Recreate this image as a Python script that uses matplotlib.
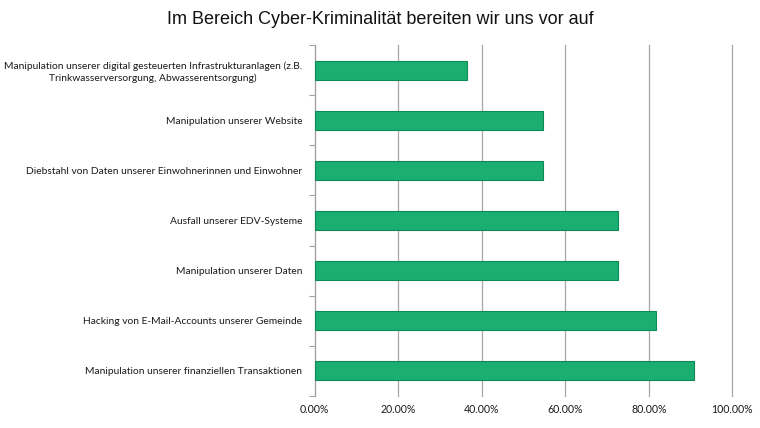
import matplotlib
matplotlib.use("Agg")
import matplotlib.pyplot as plt
from matplotlib.ticker import FixedLocator, FuncFormatter

title = "Im Bereich Cyber-Kriminalität bereiten wir uns vor auf"
categories = [
    "Manipulation unserer digital gesteuerten Infrastrukturanlagen (z.B.\nTrinkwasserversorgung, Abwasserentsorgung)",
    "Manipulation unserer Website",
    "Diebstahl von Daten unserer Einwohnerinnen und Einwohner",
    "Ausfall unserer EDV-Systeme",
    "Manipulation unserer Daten",
    "Hacking von E-Mail-Accounts unserer Gemeinde",
    "Manipulation unserer finanziellen Transaktionen",
]
values = [0.3636, 0.5455, 0.5455, 0.7273, 0.7273, 0.8182, 0.9091]
xticks = [0.0, 0.2, 0.4, 0.6, 0.8, 1.0]

fig = plt.figure(figsize=(7.6, 4.28), dpi=100)
ax = fig.add_axes([314.7/760, 1-396/428, (732.3-314.7)/760, (396-45)/428])

n = len(categories)
ypos = list(range(n))
ax.barh(ypos, values, height=0.38, color="#1AAF70", edgecolor="#0F8A55", linewidth=0.8, zorder=3)
ax.set_ylim(n-0.5, -0.5)
ax.set_xlim(0, 1.0)

ax.set_yticks(ypos)
ax.set_yticklabels(categories, family=["Lato", "DejaVu Sans"], fontsize=7.4, color="#1a1a1a",
                   multialignment="center", linespacing=1.25)
ax.tick_params(axis="y", which="major", length=0, pad=9)
ax.yaxis.set_minor_locator(FixedLocator([i - 0.5 for i in range(n + 1)]))
ax.tick_params(axis="y", which="minor", length=4, color="#A0A0A0", width=0.8)

ax.set_xticks(xticks)
ax.xaxis.set_major_formatter(FuncFormatter(lambda v, p: f"{v*100:.2f}%"))
ax.tick_params(axis="x", length=0, pad=6, labelsize=7.6, colors="#1a1a1a")
for lab in ax.get_xticklabels():
    lab.set_family(["Lato", "DejaVu Sans"])
ax.grid(axis="x", color="#A6A6A6", linewidth=0.9, zorder=0)
ax.grid(axis="y", visible=False)
for gl in ax.get_xgridlines():
    gl.set_clip_on(False)

for s in ["top", "right", "bottom"]:
    ax.spines[s].set_visible(False)
ax.spines["left"].set_color("#A0A0A0")
ax.spines["left"].set_linewidth(0.8)

fig.text(0.5, 1-20/428, title, ha="center", va="center", fontsize=13,
         family=["Liberation Sans", "DejaVu Sans"], color="#111111")

fig.savefig("out.png", dpi=100)
